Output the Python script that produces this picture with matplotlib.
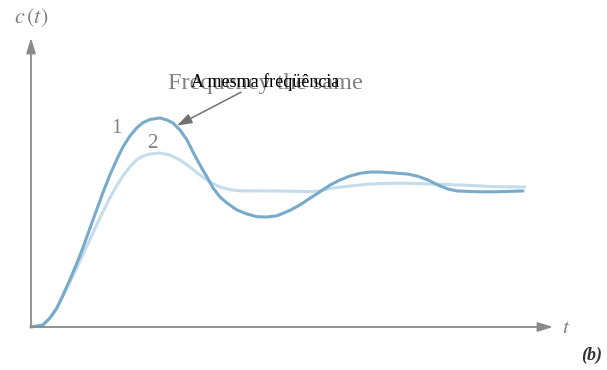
import matplotlib
matplotlib.use("Agg")
import matplotlib.pyplot as plt

plt.rcParams["mathtext.fontset"] = "stix"
plt.rcParams["font.family"] = ["Liberation Serif", "DejaVu Serif"]

# step response 1 (underdamped, larger overshoot)
t1 = [0, 0.24, 0.38, 0.52, 0.64, 0.78, 0.92, 1.04, 1.18, 1.32, 1.44, 1.58,
      1.72, 1.84, 1.98, 2.12, 2.24, 2.38, 2.58, 2.72, 2.84, 2.98, 3.12, 3.24,
      3.38, 3.52, 3.64, 3.78, 3.92, 4.12, 4.32, 4.52, 4.72, 4.92, 5.18, 5.38,
      5.58, 5.78, 5.98, 6.18, 6.38, 6.58, 6.78, 6.98, 7.28, 7.54, 7.74, 7.94,
      8.14, 8.34, 8.52, 8.94, 9.28, 9.84]
c1 = [0, 0.015, 0.066, 0.140, 0.232, 0.348, 0.468, 0.580, 0.722, 0.862, 0.982,
      1.112, 1.226, 1.315, 1.395, 1.455, 1.492, 1.515, 1.526, 1.511, 1.489,
      1.438, 1.365, 1.277, 1.182, 1.095, 1.015, 0.949, 0.905, 0.854, 0.825,
      0.805, 0.803, 0.812, 0.852, 0.891, 0.940, 0.987, 1.036, 1.073, 1.102,
      1.122, 1.131, 1.131, 1.124, 1.116, 1.100, 1.073, 1.036, 1.007, 0.993,
      0.987, 0.987, 0.993]

# step response 2 (same frequency, smaller overshoot)
t2 = [0, 0.24, 0.38, 0.52, 0.64, 0.78, 0.92, 1.04, 1.18, 1.32, 1.44, 1.58,
      1.72, 1.84, 1.98, 2.12, 2.24, 2.38, 2.58, 2.78, 2.98, 3.18, 3.38, 3.58,
      3.78, 3.98, 4.18, 4.92, 5.58, 5.78, 5.98, 6.38, 6.78, 7.38, 7.94, 8.62,
      9.28, 9.88]
c2 = [0, 0.015, 0.066, 0.140, 0.228, 0.328, 0.435, 0.530, 0.640, 0.750, 0.843,
      0.945, 1.035, 1.103, 1.170, 1.222, 1.248, 1.263, 1.270, 1.255, 1.219,
      1.168, 1.109, 1.058, 1.022, 1.002, 0.994, 0.993, 0.988, 0.994, 1.012,
      1.029, 1.044, 1.050, 1.045, 1.036, 1.024, 1.022]

fig = plt.figure(figsize=(6.07, 3.70), dpi=100)
ax = fig.add_axes([0, 0, 1, 1])
ax.set_xlim(-0.62, 11.52)
ax.set_ylim(-0.314, 2.387)
ax.axis("off")

axis_col = "#8a8a8a"
arrow = dict(arrowstyle="-|>,head_length=0.9,head_width=0.28", color=axis_col,
             lw=1.3, shrinkA=0, shrinkB=0)
ax.annotate("", xy=(0, 2.11), xytext=(0, 0), arrowprops=arrow)
ax.annotate("", xy=(10.44, 0), xytext=(0, 0), arrowprops=arrow)

ax.plot(t2, c2, color="#c4dceb", lw=2.2, solid_capstyle="round",
        solid_joinstyle="round")
ax.plot(t1, c1, color="#78aac9", lw=2.2, solid_capstyle="round",
        solid_joinstyle="round")

gray = "#808080"
ax.text(0.0, 2.26, r"$c\,(t)$", color=gray, fontsize=16, ha="center", va="center")
ax.text(10.7, -0.01, r"$t$", color=gray, fontsize=15, ha="center", va="center")
ax.text(11.22, -0.205, "(b)", color="#333333", fontsize=13, fontweight="bold",
        fontstyle="italic", ha="center", va="center")
ax.text(1.7, 1.45, "1", color=gray, fontsize=15, ha="center", va="center")
ax.text(2.42, 1.34, "2", color=gray, fontsize=15, ha="center", va="center")

ax.text(4.68, 1.78, "Frequency the same", color=gray, fontsize=17.5,
        ha="center", va="center")
ax.text(4.68, 1.79, "A mesma freqüência", color="black", fontsize=13,
        ha="center", va="center")
ax.annotate("", xy=(2.92, 1.47), xytext=(4.2, 1.714),
            arrowprops=dict(arrowstyle="-|>,head_length=0.9,head_width=0.3",
                            color="#707070", lw=1.1, shrinkA=0, shrinkB=0))

fig.savefig("out.png", dpi=100)
